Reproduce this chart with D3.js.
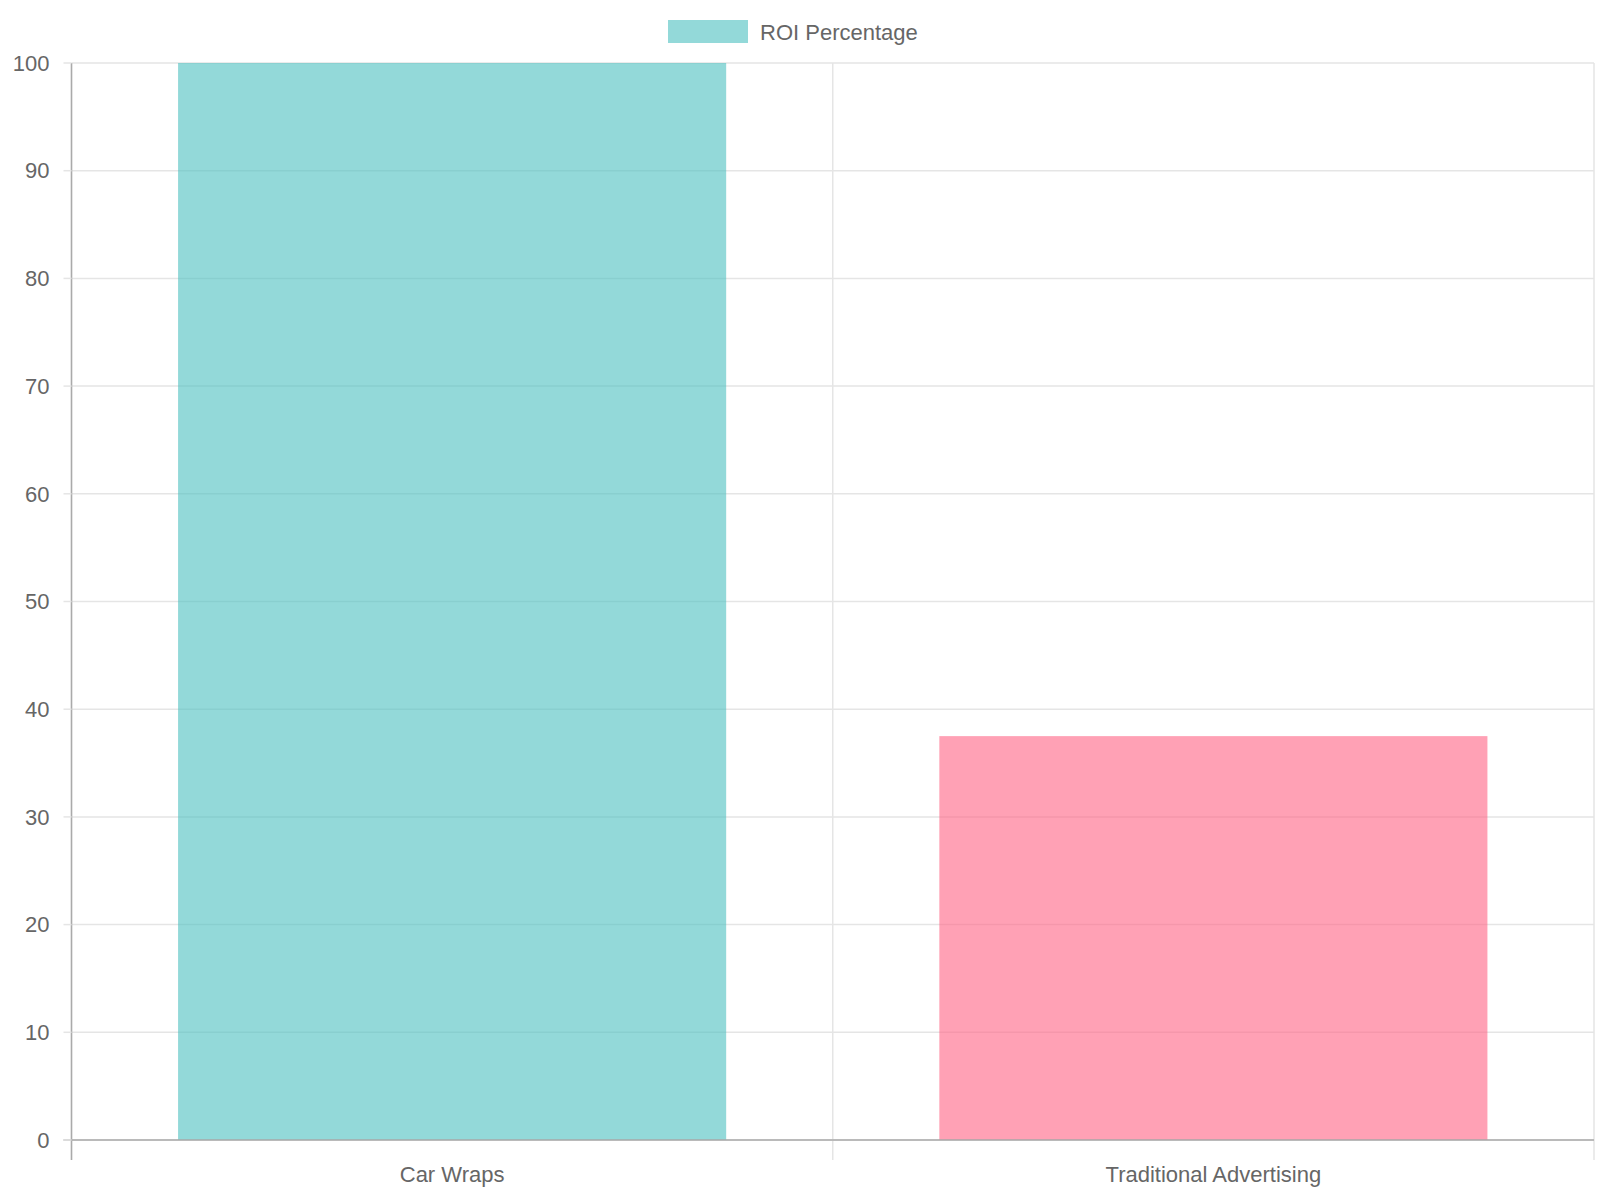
<!DOCTYPE html>
<html><head><meta charset="utf-8">
<script src="https://cdn.jsdelivr.net/npm/d3@7"></script>
<style>body{margin:0;background:#fff}svg{display:block;font-family:"Liberation Sans",Arial,sans-serif}</style>
</head><body><div id="chart"></div>
<script>
// ROI bar chart
const categories = ['Car Wraps', 'Traditional Advertising'];
const roiValues = [100, 37.5];
const barColors = ['rgba(75,192,192,0.6)', 'rgba(255,99,132,0.6)'];
const yTicks = d3.range(0, 101, 10);

const W = 1600, H = 1200;
const m = {left: 71.5, right: 6, top: 63, bottom: 60};
const svg = d3.select('#chart').append('svg').attr('width', W).attr('height', H);
const innerW = W - m.left - m.right, innerH = H - m.top - m.bottom;
const g = svg.append('g').attr('transform', `translate(${m.left},${m.top})`);

const x = d3.scaleBand().domain(categories).range([0, innerW]).paddingInner(0).paddingOuter(0);
const y = d3.scaleLinear().domain([0, 100]).range([innerH, 0]);

// grid
g.selectAll('.hg').data(yTicks).join('line')
  .attr('x1', 0).attr('x2', innerW).attr('y1', d => y(d)).attr('y2', d => y(d))
  .attr('stroke', '#e5e5e5').attr('stroke-width', 1.5);
const vlines = [0, x(categories[1]), innerW];
g.selectAll('.vg').data(vlines).join('line')
  .attr('x1', d => d).attr('x2', d => d).attr('y1', 0).attr('y2', innerH + 20)
  .attr('stroke', '#e5e5e5').attr('stroke-width', 1.5);

// bars
const bw = x.bandwidth() * 0.72;
g.selectAll('.bar').data(roiValues).join('rect')
  .attr('x', (d, i) => x(categories[i]) + (x.bandwidth() - bw) / 2)
  .attr('width', bw)
  .attr('y', d => y(d)).attr('height', d => innerH - y(d))
  .attr('fill', (d, i) => barColors[i]);

// axes lines
g.append('line').attr('x1', 0).attr('x2', 0).attr('y1', 0).attr('y2', innerH + 20).attr('stroke', '#aaa').attr('stroke-width', 1.5);
g.append('line').attr('x1', -8).attr('x2', innerW).attr('y1', innerH).attr('y2', innerH).attr('stroke', '#aaa').attr('stroke-width', 1.5);
g.selectAll('.yt').data(yTicks).join('line')
  .attr('x1', -8).attr('x2', 0).attr('y1', d => y(d)).attr('y2', d => y(d))
  .attr('stroke', '#e5e5e5').attr('stroke-width', 1.5);

g.selectAll('.yl').data(yTicks).join('text')
  .attr('x', -22).attr('y', d => y(d)).attr('dy', '0.35em')
  .attr('text-anchor', 'end').attr('font-size', 22).attr('fill', '#666').text(d => d);
g.selectAll('.xl').data(categories).join('text')
  .attr('x', d => x(d) + x.bandwidth() / 2).attr('y', innerH + 42)
  .attr('text-anchor', 'middle').attr('font-size', 22).attr('fill', '#666').text(d => d);

// legend
const lg = svg.append('g');
lg.append('rect').attr('x', 668).attr('y', 20).attr('width', 80).attr('height', 23)
  .attr('fill', barColors[0]);
lg.append('text').attr('x', 760).attr('y', 32).attr('dy', '0.35em')
  .attr('font-size', 22).attr('fill', '#666').text('ROI Percentage');
</script></body></html>
